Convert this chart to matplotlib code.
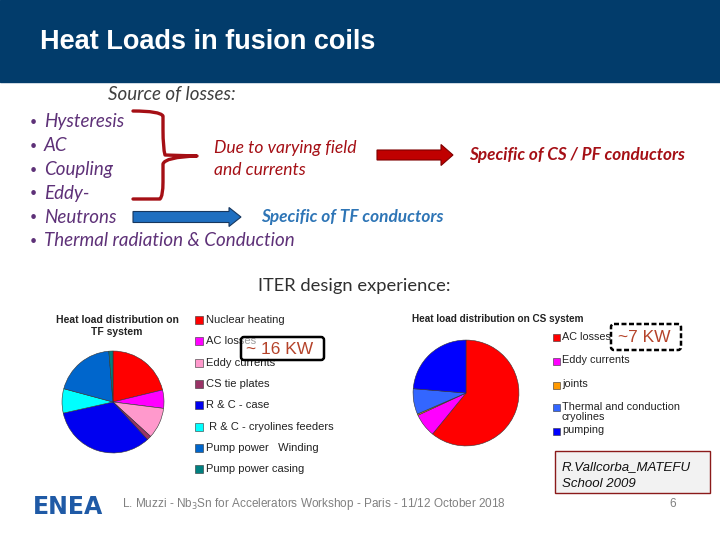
import matplotlib
matplotlib.use("Agg")
import matplotlib.pyplot as plt
from matplotlib.patches import Rectangle, FancyBboxPatch, FancyArrow, PathPatch
from matplotlib.path import Path

# TF system heat load shares (%)
tf_labels = ["Nuclear heating", "AC losses", "Eddy currents", "CS tie plates",
             "R & C - case", " R & C - cryolines feeders", "Pump power   Winding",
             "Pump power casing"]
tf_values = [21.2, 5.8, 9.8, 1.4, 33.3, 7.7, 19.5, 1.3]
tf_colors = ["#FF0000", "#FF00FF", "#FF99CC", "#993366",
             "#0000F0", "#00FFFF", "#0066CC", "#008080"]

# CS system heat load shares (%)
cs_labels = ["AC losses", "Eddy currents", "joints",
             "Thermal and conduction\ncryolines", "pumping"]
cs_values = [60.9, 7.2, 0.4, 7.8, 23.7]
cs_colors = ["#FF0000", "#FF00FF", "#FF9900", "#3366FF", "#0000FF"]

bullets = ["Hysteresis", "AC", "Coupling", "Eddy-", "Neutrons",
           "Thermal radiation & Conduction"]

W, H = 720, 540
fig = plt.figure(figsize=(7.2, 5.4), dpi=100)
ax = fig.add_axes([0, 0, 1, 1])
ax.set_xlim(0, W)
ax.set_ylim(H, 0)
ax.axis("off")


def px_axes(x, y, w, h):
    # axes from pixel box (top-left origin)
    return fig.add_axes([x / W, (H - y - h) / H, w / W, h / H])


# header band
ax.add_patch(Rectangle((0, 0), W, 82, color="#023C6B", zorder=1))
ax.text(40, 42, "Heat Loads in fusion coils", color="white", fontsize=19.5,
        fontweight="bold", family="Liberation Sans",
        va="center", ha="left", zorder=2)

purple = "#5E3178"
darkred = "#A50F15"
ax.text(108, 95, "Source of losses:", fontsize=13.5, style="italic",
        family="Lato", color="#404040", va="center")
for i, b in enumerate(bullets):
    yy = 122 + i * 23.8
    ax.text(33.5, yy, "\u2022", fontsize=9, family="Lato", color=purple,
            va="center", ha="center")
    ax.text(44, yy, b, fontsize=13.5, style="italic",
            family="Lato", color=purple, va="center")

# curly brace
verts = [(133, 111), (160, 111), (163, 116), (163, 130),
         (163, 148), (165, 155), (197, 156),
         (165, 157), (163, 164), (163, 182),
         (163, 196), (160, 199), (133, 199)]
codes = [Path.MOVETO, Path.CURVE3, Path.CURVE3, Path.LINETO,
         Path.CURVE3, Path.CURVE3, Path.LINETO,
         Path.CURVE3, Path.CURVE3, Path.LINETO,
         Path.CURVE3, Path.CURVE3, Path.LINETO]
ax.add_patch(PathPatch(Path(verts, codes), fill=False, ec=darkred, lw=2.4,
                       capstyle="round", joinstyle="round"))

ax.text(214, 148, "Due to varying field", fontsize=12.6, style="italic",
        family="Lato", color=darkred, va="center")
ax.text(214, 170, "and currents", fontsize=12.6, style="italic",
        family="Lato", color=darkred, va="center")

ax.add_patch(FancyArrow(377, 155, 76, 0, width=10, head_width=21,
                        head_length=12, length_includes_head=True,
                        fc="#C00000", ec="#7F0000", lw=0.8))
ax.text(469, 155, "Specific of CS / PF conductors", fontsize=12.3,
        style="italic", fontweight="bold", family="Lato", color=darkred,
        va="center")

ax.add_patch(FancyArrow(133, 217, 108, 0, width=11, head_width=19,
                        head_length=12, length_includes_head=True,
                        fc="#1F6FC0", ec="#17375E", lw=0.8))
ax.text(261, 217, "Specific of TF conductors", fontsize=12.4,
        style="italic", fontweight="bold", family="Lato", color="#2E75B6",
        va="center")

ax.text(258, 286, "ITER design experience:", fontsize=13.2, family="Lato",
        color="#303030", va="center")

# TF pie
chart_font = dict(family="Liberation Sans", color="#222222")
ax.text(117, 326, "Heat load distribution on\nTF system", fontsize=7.5,
        fontweight="bold", ha="center", va="center", linespacing=1.2,
        **chart_font)
tf_ax = px_axes(61, 350, 104, 104)
tf_ax.pie(tf_values, colors=tf_colors, startangle=90, counterclock=False,
          wedgeprops=dict(edgecolor="#333333", linewidth=0.4))
tf_ax.set_xlim(-1.02, 1.02)
tf_ax.set_ylim(-1.02, 1.02)
tf_ax.set_aspect("equal")
for i, (lab, col) in enumerate(zip(tf_labels, tf_colors)):
    yy = 320 + i * 21.3
    ax.add_patch(Rectangle((195, yy - 4), 8, 8, fc=col, ec="#333333", lw=0.4))
    ax.text(206, yy, lab, fontsize=8, va="center", **chart_font)

# CS pie
ax.text(412, 319, "Heat load distribution on CS system", fontsize=7.2,
        fontweight="bold", ha="left", va="center", **chart_font)
cs_ax = px_axes(412, 339, 108, 108)
cs_ax.pie(cs_values, colors=cs_colors, startangle=90, counterclock=False,
          wedgeprops=dict(edgecolor="#333333", linewidth=0.4))
cs_ax.set_xlim(-1.02, 1.02)
cs_ax.set_ylim(-1.02, 1.02)
cs_ax.set_aspect("equal")
cs_rows = [337.5, 361, 385, 407, 431]
for lab, col, yy in zip(cs_labels, cs_colors, cs_rows):
    ax.add_patch(Rectangle((553, yy - 3.5), 7, 7, fc=col, ec="#333333", lw=0.4))
    ax.text(562, yy - 1 if "\n" not in lab else yy + 5, lab, fontsize=7.8,
            va="center", linespacing=1.1, **chart_font)

# power callouts
ax.add_patch(FancyBboxPatch((241, 337), 83, 23, boxstyle="round,pad=0,rounding_size=3",
                            fc=(1, 1, 1, 0.55), ec="black", lw=1.8, zorder=5))
ax.text(246, 349, "~ 16 KW", fontsize=12.5, color="#B5432A", va="center",
        family="Liberation Sans", zorder=6)
ax.add_patch(FancyBboxPatch((611, 324), 70, 26, boxstyle="round,pad=0,rounding_size=3",
                            fc="white", ec="black", lw=1.8, ls=(0, (2, 1)), zorder=5))
ax.text(618, 337, "~7 KW", fontsize=12.5, color="#B5432A", va="center",
        family="Liberation Sans", zorder=6)

# citation box
ax.add_patch(Rectangle((555, 451), 155, 42, fc="#F2F2F2", ec="#8B1A1A", lw=1.0))
ax.text(562, 467, "R.Vallcorba_MATEFU", fontsize=9.5, style="italic",
        va="center", family="Liberation Sans", color="#111111")
ax.text(562, 484, "School 2009", fontsize=9.5, style="italic",
        va="center", family="Liberation Sans", color="#111111")

# footer
ax.text(68, 507, "ENEA", fontsize=17, fontweight="heavy", color="#1F5AA6",
        ha="center", va="center", family="DejaVu Sans")
ax.text(122, 504, "L. Muzzi - Nb$_3$Sn for Accelerators Workshop - Paris - 11/12 October 2018",
        fontsize=8.5, color="#808080", va="center", family="Liberation Sans")
ax.text(673, 504, "6", fontsize=8.5, color="#808080", va="center", ha="center",
        family="Liberation Sans")

fig.savefig("out.png", dpi=100)
